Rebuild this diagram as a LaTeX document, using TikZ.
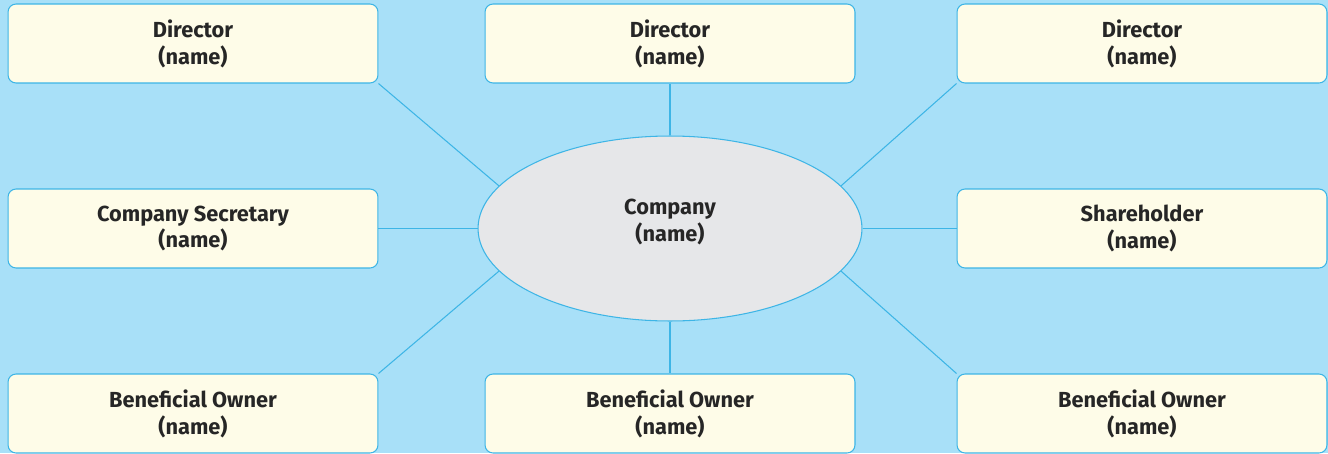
\documentclass[tikz,border=0pt]{standalone}
\usepackage{fontspec}
\setmainfont{Fira Sans}
\usetikzlibrary{shapes.geometric}
\definecolor{sky}{HTML}{A8E0F8}
\definecolor{cream}{HTML}{FEFCE8}
\definecolor{rim}{HTML}{3DB5E6}
\definecolor{greyfill}{HTML}{E6E7E9}
\begin{document}
\begin{tikzpicture}[x=0.02cm,y=-0.02cm]
\tikzset{
    role/.style={draw=rim, fill=cream, line width=0.6pt, rounded corners=0.16cm,
        minimum width=7.4cm, minimum height=1.58cm, align=center,
        font=\fontsize{12.4}{15.3}\selectfont\bfseries, text=black!85},
    firm/.style={ellipse, draw=rim, fill=greyfill, line width=0.6pt,
        minimum width=7.68cm, minimum height=3.7cm, align=center,
        font=\fontsize{12.4}{15.3}\selectfont\bfseries, text=black!85},
    link/.style={draw=rim, line width=0.6pt}}

\fill[sky] (0,0) rectangle (1328,453);
\useasboundingbox (0,0) rectangle (1328,453);

% top row
\node[role] (d1) at (193,43.5) {Director\\(name)};
\node[role] (d2) at (670,43.5) {Director\\(name)};
\node[role] (d3) at (1142,43.5) {Director\\(name)};

% middle row
\node[role] (cs) at (193,228.5) {Company Secretary\\(name)};
\node[firm] (co) at (670,228.5) {Company\\(name)\\[-6pt]\mbox{}};
\node[role] (sh) at (1142,228.5) {Shareholder\\(name)};

% bottom row
\node[role] (b1) at (193,413.5) {Beneficial Owner\\(name)};
\node[role] (b2) at (670,413.5) {Beneficial Owner\\(name)};
\node[role] (b3) at (1142,413.5) {Beneficial Owner\\(name)};

\draw[link] (co.166) -- (d1.south east);
\draw[link] (co) -- (d2);
\draw[link] (co.14) -- (d3.south west);
\draw[link] (cs) -- (co);
\draw[link] (co) -- (sh);
\draw[link] (co.-166) -- (b1.north east);
\draw[link] (co) -- (b2);
\draw[link] (co.-14) -- (b3.north west);
\end{tikzpicture}
\end{document}
